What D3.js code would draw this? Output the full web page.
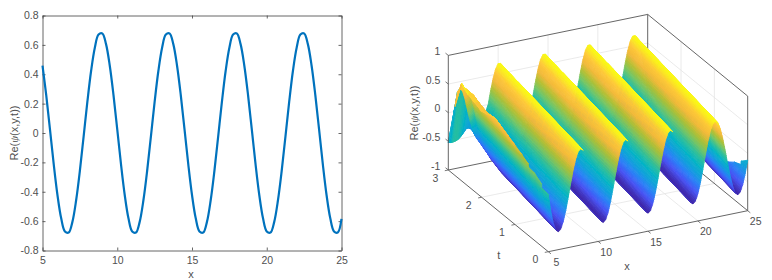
<!DOCTYPE html>
<html><head><meta charset="utf-8">
<script src="https://cdn.jsdelivr.net/npm/d3@7"></script>
<style>html,body{margin:0;background:#fff}svg{display:block}text{font-family:"Liberation Sans",Arial,sans-serif}</style>
</head><body><svg id="c" width="772" height="280"></svg>
<script>
// ---------- data ----------
const lineStartX = 5, lineStepX = 0.25;
const lineValues = [
.458,.257,.024,-.212,-.422,-.581,-.670,-.678,-.605,-.458,-.257,-.024,.212,.422,.581,.670,.678,.605,
.458,.257,.024,-.212,-.422,-.581,-.670,-.678,-.605,-.458,-.257,-.024,.212,.422,.581,.670,.678,.605,
.458,.257,.024,-.212,-.422,-.581,-.670,-.678,-.605,-.458,-.257,-.024,.212,.422,.581,.670,.678,.605,
.458,.257,.024,-.212,-.422,-.581,-.670,-.678,-.605,-.458,-.257,-.024,.212,.422,.581,.670,.678,.605,
.458,.257,.024,-.212,-.422,-.581,-.670,-.678,-.585];
const leftXTicks = [5,10,15,20,25];
const leftYTicks = [-.8,-.6,-.4,-.2,0,.2,.4,.6,.8];
const surfX = lineValues.map((_, i) => lineStartX + i * lineStepX);
const surfT = [0,.4,.8,1.2,1.6,2,2.4,2.6,2.8,3];
const surfZt00 = [
0,-.30,-.525,-.644,-.685,-.644,-.525,-.343,-.119,.119,.343,.525,.644,.685,.644,.525,.343,.119,
-.119,-.343,-.525,-.644,-.685,-.644,-.525,-.343,-.119,.119,.343,.525,.644,.685,.644,.525,.343,.119,
-.119,-.343,-.525,-.644,-.685,-.644,-.525,-.343,-.119,.119,.343,.525,.644,.685,.644,.525,.343,.119,
-.119,-.343,-.525,-.644,-.685,-.644,-.525,-.343,-.119,.119,.343,.525,.644,.685,.644,.525,.343,.119,
-.119,-.343,-.525,-.644,-.685,-.644,-.525,-.343,-.119];
const surfZt04 = [
.17,-.08,-.343,-.525,-.644,-.685,-.644,-.525,-.343,-.119,.119,.343,.525,.644,.685,.644,.525,.343,
.119,-.119,-.343,-.525,-.644,-.685,-.644,-.525,-.343,-.119,.119,.343,.525,.644,.685,.644,.525,.343,
.119,-.119,-.343,-.525,-.644,-.685,-.644,-.525,-.343,-.119,.119,.343,.525,.644,.685,.644,.525,.343,
.119,-.119,-.343,-.525,-.644,-.685,-.644,-.525,-.343,-.119,.119,.343,.525,.644,.685,.644,.525,.343,
.119,-.119,-.343,-.525,-.644,-.685,-.644,-.525,-.343];
const surfZt08 = [
.32,.119,-.119,-.343,-.525,-.644,-.685,-.644,-.525,-.343,-.119,.119,.343,.525,.644,.685,.644,.525,
.343,.119,-.119,-.343,-.525,-.644,-.685,-.644,-.525,-.343,-.119,.119,.343,.525,.644,.685,.644,.525,
.343,.119,-.119,-.343,-.525,-.644,-.685,-.644,-.525,-.343,-.119,.119,.343,.525,.644,.685,.644,.525,
.343,.119,-.119,-.343,-.525,-.644,-.685,-.644,-.525,-.343,-.119,.119,.343,.525,.644,.685,.644,.525,
.343,.119,-.119,-.343,-.525,-.644,-.685,-.644,-.525];
const surfZt12 = [
.45,.32,.119,-.119,-.343,-.525,-.644,-.685,-.644,-.525,-.343,-.119,.119,.343,.525,.644,.685,.644,
.525,.343,.119,-.119,-.343,-.525,-.644,-.685,-.644,-.525,-.343,-.119,.119,.343,.525,.644,.685,.644,
.525,.343,.119,-.119,-.343,-.525,-.644,-.685,-.644,-.525,-.343,-.119,.119,.343,.525,.644,.685,.644,
.525,.343,.119,-.119,-.343,-.525,-.644,-.685,-.644,-.525,-.343,-.119,.119,.343,.525,.644,.685,.644,
.525,.343,.119,-.119,-.343,-.525,-.644,-.685,-.644];
const surfZt16 = [
.57,.50,.34,.119,-.119,-.343,-.525,-.644,-.685,-.644,-.525,-.343,-.119,.119,.343,.525,.644,.685,
.644,.525,.343,.119,-.119,-.343,-.525,-.644,-.685,-.644,-.525,-.343,-.119,.119,.343,.525,.644,.685,
.644,.525,.343,.119,-.119,-.343,-.525,-.644,-.685,-.644,-.525,-.343,-.119,.119,.343,.525,.644,.685,
.644,.525,.343,.119,-.119,-.343,-.525,-.644,-.685,-.644,-.525,-.343,-.119,.119,.343,.525,.644,.685,
.644,.525,.343,.119,-.119,-.343,-.525,-.644,-.685];
const surfZt20 = [
.50,.50,.47,.33,.119,-.119,-.343,-.525,-.644,-.685,-.644,-.525,-.343,-.119,.119,.343,.525,.644,
.685,.644,.525,.343,.119,-.119,-.343,-.525,-.644,-.685,-.644,-.525,-.343,-.119,.119,.343,.525,.644,
.685,.644,.525,.343,.119,-.119,-.343,-.525,-.644,-.685,-.644,-.525,-.343,-.119,.119,.343,.525,.644,
.685,.644,.525,.343,.119,-.119,-.343,-.525,-.644,-.685,-.644,-.525,-.343,-.119,.119,.343,.525,.644,
.685,.644,.525,.343,.119,-.119,-.343,-.525,-.644];
const surfZt24 = [
.60,.60,.58,.50,.34,.119,-.119,-.33,-.50,-.60,-.62,-.60,-.50,-.343,-.119,.119,.343,.525,
.644,.685,.644,.525,.343,.119,-.119,-.343,-.525,-.644,-.685,-.644,-.525,-.343,-.119,.119,.343,.525,
.644,.685,.644,.525,.343,.119,-.119,-.343,-.525,-.644,-.685,-.644,-.525,-.343,-.119,.119,.343,.525,
.644,.685,.644,.525,.343,.119,-.119,-.343,-.525,-.644,-.685,-.644,-.525,-.343,-.119,.119,.343,.525,
.644,.685,.644,.525,.343,.119,-.119,-.343,-.525];
const surfZt26 = [
.70,.62,.58,.52,.40,.22,0,-.22,-.40,-.52,-.55,-.55,-.52,-.42,-.234,0,.234,.44,
.593,.675,.675,.593,.44,.234,0,-.234,-.44,-.593,-.675,-.675,-.593,-.44,-.234,0,.234,.44,
.593,.675,.675,.593,.44,.234,0,-.234,-.44,-.593,-.675,-.675,-.593,-.44,-.234,0,.234,.44,
.593,.675,.675,.593,.44,.234,0,-.234,-.44,-.593,-.675,-.675,-.593,-.44,-.234,0,.234,.44,
.593,.675,.675,.593,.44,.234,0,-.234,-.44];
const surfZt28 = [
.20,.45,.50,.45,.30,.10,-.10,-.25,-.37,-.45,-.50,-.50,-.45,-.33,-.20,-.05,.119,.343,
.525,.644,.685,.644,.525,.343,.119,-.119,-.343,-.525,-.644,-.685,-.644,-.525,-.343,-.119,.119,.343,
.525,.644,.685,.644,.525,.343,.119,-.119,-.343,-.525,-.644,-.685,-.644,-.525,-.343,-.119,.119,.343,
.525,.644,.685,.644,.525,.343,.119,-.119,-.343,-.525,-.644,-.685,-.644,-.525,-.343,-.119,.119,.343,
.525,.644,.685,.644,.525,.343,.119,-.119,-.343];
const surfZt30 = [
-.52,-.53,-.53,-.52,-.50,-.46,-.41,-.35,-.30,-.24,-.19,-.15,-.13,-.12,-.12,-.12,0,.234,
.44,.593,.675,.675,.593,.44,.234,0,-.234,-.44,-.593,-.675,-.675,-.593,-.44,-.234,0,.234,
.44,.593,.675,.675,.593,.44,.234,0,-.234,-.44,-.593,-.675,-.675,-.593,-.44,-.234,0,.234,
.44,.593,.675,.675,.593,.44,.234,0,-.234,-.44,-.593,-.675,-.675,-.593,-.44,-.234,0,.234,
.44,.593,.675,.675,.593,.44,.234,0,-.234];
const xTicks3d = [5,10,15,20,25];
const tTicks3d = [0,1,2,3];
const zTicks3d = [-1,-.5,0,.5,1];
const parulaStops = ["#3e26a8","#4752f4","#2b80f7","#109fdc","#06b3c6","#2abf9e","#72c668","#b0c034","#f2b93a","#fec838","#f9fb15"];

// ---------- setup ----------
const svg = d3.select("#c");
svg.append("rect").attr("width",772).attr("height",280).attr("fill","#fff");
const defs = svg.append("defs");
defs.append("filter").attr("id","soft").attr("x","-5%").attr("y","-5%").attr("width","110%").attr("height","110%")
  .append("feGaussianBlur").attr("stdDeviation",.45);
const axisCol = "#404040", textCol = "#505050", fs = 10.5;

function reLabel(g){
  g.attr("font-size",fs+0.5).attr("fill",textCol).attr("text-anchor","middle");
  g.append("tspan").text("Re(");
  g.append("tspan").attr("font-family","Liberation Serif").attr("font-style","italic").text("ψ");
  g.append("tspan").text("(x,y,t))");
}

// ---------- left: 2-D line ----------
const L = {l:42.5,r:341.5,t:15.5,b:250.5};
const xL = d3.scaleLinear().domain([5,25]).range([L.l,L.r]);
const yL = d3.scaleLinear().domain([-.8,.8]).range([L.b,L.t]);
const fmt = d => d===0 ? "0" : String(d);
const left = svg.append("g");
const styleAxis = g => {
  g.selectAll("path").attr("stroke",axisCol).attr("stroke-width",.8);
  g.selectAll("line").attr("stroke",axisCol).attr("stroke-width",.8);
  g.selectAll("text").attr("font-size",fs).attr("fill",textCol).attr("font-family","Liberation Sans");
};
left.append("g").attr("transform",`translate(0,${L.b})`).call(d3.axisBottom(xL).tickValues(leftXTicks).tickSizeOuter(0).tickSizeInner(-3).tickPadding(6).tickFormat(d3.format("d"))).call(styleAxis);
left.append("g").attr("transform",`translate(${L.l},0)`).call(d3.axisLeft(yL).tickValues(leftYTicks).tickSizeOuter(0).tickSizeInner(-3).tickPadding(4).tickFormat(fmt)).call(styleAxis);
left.append("g").attr("transform",`translate(0,${L.t})`).call(d3.axisTop(xL).tickValues(leftXTicks).tickSizeOuter(0).tickSizeInner(-3).tickFormat("")).call(styleAxis);
left.append("g").attr("transform",`translate(${L.r},0)`).call(d3.axisRight(yL).tickValues(leftYTicks).tickSizeOuter(0).tickSizeInner(-3).tickFormat("")).call(styleAxis);
left.append("path").datum(lineValues).attr("fill","none").attr("stroke","#0072BD").attr("stroke-width",2.2)
  .attr("d",d3.line().x((d,i)=>xL(surfX[i])).y(d=>yL(d)).curve(d3.curveCatmullRom));
left.append("text").attr("x",191).attr("y",278).attr("text-anchor","middle").attr("font-size",fs+.5).attr("fill",textCol).text("x");
left.append("text").attr("transform","translate(18,133) rotate(-90)").call(reLabel);

// ---------- right: 3-D surface ----------
const xPx = d3.scaleLinear().domain([5,25]).range([0,199.4]);
const xPy = d3.scaleLinear().domain([5,25]).range([0,-41]);
const tPx = d3.scaleLinear().domain([0,3]).range([548.3,448.3]);
const tPy = d3.scaleLinear().domain([0,3]).range([251.7,170]);
const zPy = d3.scaleLinear().domain([-1,1]).range([0,-114.6]);
const proj = (x,t,z) => [xPx(x)+tPx(t), xPy(x)+tPy(t)+zPy(z)];
const right = svg.append("g");
const seg = (a,b,col,w) => right.append("line").attr("x1",a[0]).attr("y1",a[1]).attr("x2",b[0]).attr("y2",b[1]).attr("stroke",col).attr("stroke-width",w);
const gridCol = "#e4e4e4";
xTicks3d.slice(1,-1).forEach(x=>{ seg(proj(x,3,-1),proj(x,3,1),gridCol,.8); seg(proj(x,0,-1),proj(x,3,-1),gridCol,.8); });
tTicks3d.slice(1,-1).forEach(t=>{ seg(proj(25,t,-1),proj(25,t,1),gridCol,.8); seg(proj(5,t,-1),proj(25,t,-1),gridCol,.8); });
zTicks3d.slice(1,-1).forEach(z=>{ seg(proj(5,3,z),proj(25,3,z),gridCol,.8); seg(proj(25,3,z),proj(25,0,z),gridCol,.8); });
const boxCol = "#555";
seg(proj(5,3,1),proj(25,3,1),boxCol,.9);
seg(proj(25,3,1),proj(25,0,1),boxCol,.9);
seg(proj(25,3,-1),proj(25,3,1),boxCol,.9);
seg(proj(5,3,-1),proj(25,3,-1),boxCol,.9);
seg(proj(25,3,-1),proj(25,0,-1),boxCol,.9);
seg(proj(25,0,-1),proj(25,0,1),boxCol,.9);

// surface: mesh cells follow the crest drift between sampled rows
const surfRows = [surfZt00,surfZt04,surfZt08,surfZt12,surfZt16,surfZt20,surfZt24,surfZt26,surfZt28,surfZt30];
const color = d3.scaleLinear().domain(parulaStops.map((_,i)=>-.685+1.37*i/10)).range(parulaStops).clamp(true);
const drift = 2.5; // samples per unit t
const nCol = surfX.length;
const sample = (row,s) => { const c=Math.max(0,Math.min(nCol-1,s)), i=Math.min(nCol-2,Math.floor(c)), f=c-i; return row[i]*(1-f)+row[i+1]*f; };
const cells = [];
const subS = 6, subPerT = 5;
for (let r=surfT.length-2; r>=0; r--) {
  const t0=surfT[r], t1=surfT[r+1], nt=Math.round((t1-t0)*subPerT), d=(t1-t0)*drift;
  const P=(s,v)=>{
    const raw=s+d*v, q=Math.max(0,Math.min(nCol-1,raw));
    const z = raw===q
      ? sample(surfRows[r],s)*(1-v)+sample(surfRows[r+1],s+d)*v
      : surfRows[r][q]*(1-v)+surfRows[r+1][q]*v;
    return {p:proj(5+q*lineStepX,t0+(t1-t0)*v,z),z};
  };
  for (let st=nt-1; st>=0; st--) {
    const v0=st/nt, v1=(st+1)/nt;
    for (let k=(nCol-1)*subS; k>=-Math.ceil(d*subS); k--) {
      const s0=k/subS, s1=(k+1)/subS;
      if (s1+d*v1<=0 || s0+d*v0>=nCol-1) continue;
      const c=[P(s0,v0),P(s1,v0),P(s1,v1),P(s0,v1)], pts=c.map(e=>e.p);
      // Undersides stay only where no nearer ridge hides them: beyond the first
      // trough line and past the last crest line.
      const n0 = s0 - drift*t0;
      if (d3.polygonArea(pts) < 0 && n0 > 4.5 && n0 < 67) continue;
      cells.push({pts,z:d3.mean(c,e=>e.z)});
    }
  }
}
right.append("g").attr("filter","url(#soft)").selectAll("polygon").data(cells).join("polygon")
  .attr("points",d=>d.pts.map(p=>p[0].toFixed(2)+","+p[1].toFixed(2)).join(" "))
  .attr("fill",d=>color(d.z)).attr("stroke",d=>color(d.z)).attr("stroke-width",.9);

seg(proj(5,3,-1),proj(5,3,1),boxCol,.9);
seg(proj(5,3,-1),proj(5,0,-1),boxCol,.9);
seg(proj(5,0,-1),proj(25,0,-1),boxCol,.9);
const tickLen=3.5;
xTicks3d.forEach(x=>seg(proj(x,0,-1),[proj(x,0,-1)[0]+tickLen*.75,proj(x,0,-1)[1]+tickLen*.6],boxCol,.8));
tTicks3d.forEach(t=>seg(proj(5,t,-1),[proj(5,t,-1)[0]-tickLen,proj(5,t,-1)[1]+tickLen*.2],boxCol,.8));
zTicks3d.forEach(z=>seg(proj(5,3,z),[proj(5,3,z)[0]-tickLen*.8,proj(5,3,z)[1]-tickLen*.65],boxCol,.8));
const lab=(x,y,s,a="middle")=>right.append("text").attr("x",x).attr("y",y).attr("font-size",fs).attr("fill",textCol).attr("text-anchor",a).text(s);
xTicks3d.forEach(x=>{const p=proj(x,0,-1); lab(p[0]+8,p[1]+14.5,x);});
tTicks3d.forEach(t=>{const p=proj(5,t,-1); lab(p[0]-13,p[1]+11.5,t);});
zTicks3d.forEach(z=>{const p=proj(5,3,z); lab(p[0]-8,p[1]-0.5,z,"end");});
right.append("text").attr("x",627).attr("y",270).attr("text-anchor","middle").attr("font-size",fs+.5).attr("fill",textCol).text("x");
right.append("text").attr("x",498.7).attr("y",259).attr("text-anchor","middle").attr("font-size",fs+.5).attr("fill",textCol).text("t");
right.append("text").attr("transform","translate(418,113) rotate(-90)").call(reLabel);
</script></body></html>
